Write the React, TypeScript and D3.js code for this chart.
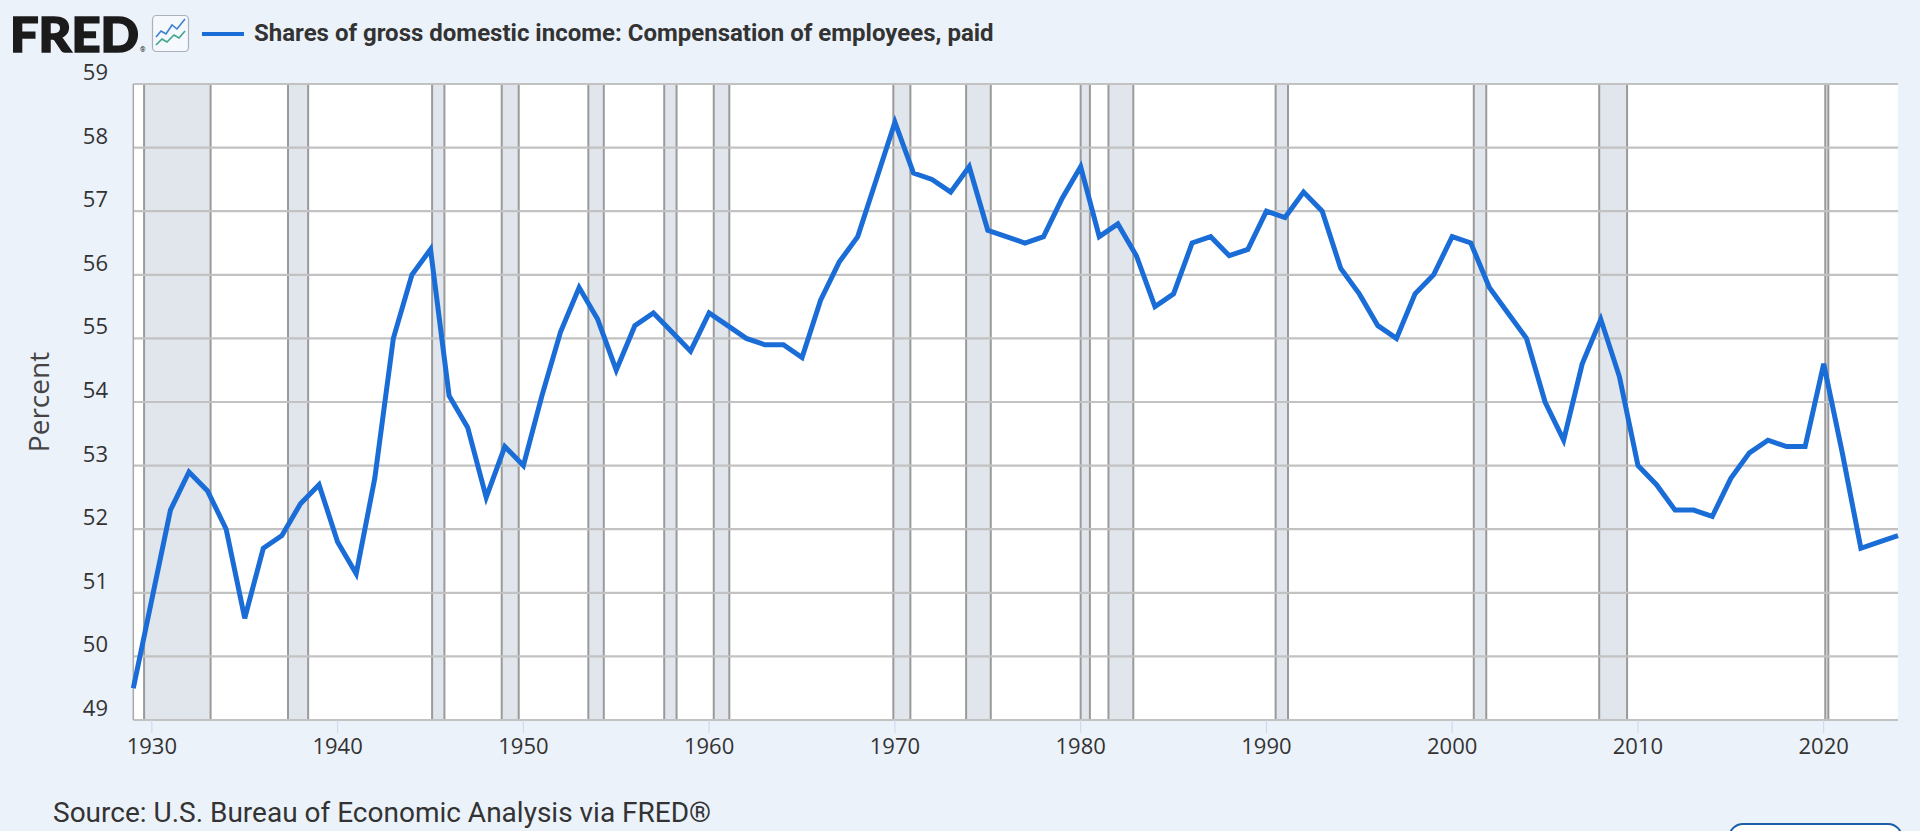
import React from "react";
import * as d3 from "d3";

const years: number[] = d3.range(1929, 2025);
const values: number[] = [
  49.5, 50.9, 52.3, 52.9, 52.6, 52.0, 50.6, 51.7, 51.9, 52.4,
  52.7, 51.8, 51.3, 52.8, 55.0, 56.0, 56.4, 54.1, 53.6, 52.5,
  53.3, 53.0, 54.1, 55.1, 55.8, 55.3, 54.5, 55.2, 55.4, 55.1,
  54.8, 55.4, 55.2, 55.0, 54.9, 54.9, 54.7, 55.6, 56.2, 56.6,
  57.5, 58.4, 57.6, 57.5, 57.3, 57.7, 56.7, 56.6, 56.5, 56.6,
  57.2, 57.7, 56.6, 56.8, 56.3, 55.5, 55.7, 56.5, 56.6, 56.3,
  56.4, 57.0, 56.9, 57.3, 57.0, 56.1, 55.7, 55.2, 55.0, 55.7,
  56.0, 56.6, 56.5, 55.8, 55.4, 55.0, 54.0, 53.4, 54.6, 55.3,
  54.4, 53.0, 52.7, 52.3, 52.3, 52.2, 52.8, 53.2, 53.4, 53.3,
  53.3, 54.6, 53.2, 51.7, 51.8, 51.9,
];

const recessionStarts: string[] = [
  "1929-08-01", "1937-05-01", "1945-02-01", "1948-11-01", "1953-07-01",
  "1957-08-01", "1960-04-01", "1969-12-01", "1973-11-01", "1980-01-01",
  "1981-07-01", "1990-07-01", "2001-03-01", "2007-12-01", "2020-02-01",
];
const recessionEnds: string[] = [
  "1933-03-01", "1938-06-01", "1945-10-01", "1949-10-01", "1954-05-01",
  "1958-04-01", "1961-02-01", "1970-11-01", "1975-03-01", "1980-07-01",
  "1982-11-01", "1991-03-01", "2001-11-01", "2009-06-01", "2020-04-01",
];

const yTicks: number[] = [49, 50, 51, 52, 53, 54, 55, 56, 57, 58, 59];
const xTickYears: number[] = [1930, 1940, 1950, 1960, 1970, 1980, 1990, 2000, 2010, 2020];

const title = "Shares of gross domestic income: Compensation of employees, paid";
const yAxisTitle = "Percent";
const sourceText = "Source: U.S. Bureau of Economic Analysis via FRED®";

const W = 1920;
const H = 831;
const plotL = 133.3;
const plotR = 1898;
const plotT = 84;
const plotB = 720;

const parse = (s: string) => new Date(s + "T00:00:00Z");
const yearDate = (y: number) => new Date(Date.UTC(y, 0, 1));

export default function App() {
  const x = d3
    .scaleUtc()
    .domain([yearDate(1929), yearDate(2024)])
    .range([plotL, plotR]);
  const y = d3.scaleLinear().domain([49, 59]).range([plotB, plotT]);

  const data = years.map((yr, i) => ({ d: yearDate(yr), v: values[i] }));
  const line = d3
    .line<{ d: Date; v: number }>()
    .x((p) => x(p.d))
    .y((p) => y(p.v));

  const lineColor = "#1a6dd6";
  const axisFont = "'Open Sans', 'Noto Sans', sans-serif";

  return (
    <div style={{ position: "absolute", left: 0, top: 0, width: W, height: H }}>
      <svg width={W} height={H} style={{ display: "block" }}>
        <rect x={0} y={0} width={W} height={H} fill="#ecf2fa" />

        {/* FRED logo */}
        <text
          x={10}
          y={52}
          fontFamily="'Lato', 'Roboto', 'Liberation Sans', sans-serif"
          fontWeight={900}
          fontSize={48}
          fill="#1b1b1b"
          stroke="#1b1b1b"
          strokeWidth={1.6}
          textLength={129}
          lengthAdjust="spacingAndGlyphs"
        >
          FRED
        </text>
        <text x={140} y={52} fontFamily="Roboto, sans-serif" fontSize={7} fill="#1b1b1b">
          ®
        </text>
        <rect x={152.5} y={15.5} width={36} height={36} rx={4} fill="#f5f8fc" stroke="#a9b1bd" strokeWidth={1.2} />
        <polyline
          points="156,37 161,31 166,34 172,25 177,29 185,19"
          fill="none"
          stroke="#3b7fd1"
          strokeWidth={1.6}
        />
        <polyline
          points="156,45 162,39 167,42 174,35 179,38 185,31"
          fill="none"
          stroke="#3ea58a"
          strokeWidth={1.6}
        />

        {/* legend */}
        <line x1={202} x2={244} y1={34} y2={34} stroke={lineColor} strokeWidth={4} />
        <text
          x={254}
          y={41}
          fontFamily="Roboto, sans-serif"
          fontWeight={700}
          fontSize={24}
          fill="#333"
        >
          {title}
        </text>

        {/* plot background */}
        <rect x={plotL} y={plotT} width={plotR - plotL} height={plotB - plotT} fill="#ffffff" />

        {/* recession bands */}
        {recessionStarts.map((s, i) => {
          const x0 = x(parse(s));
          const x1 = x(parse(recessionEnds[i]));
          return (
            <g key={s}>
              <rect x={x0} y={plotT} width={x1 - x0} height={plotB - plotT} fill="#e1e5ec" />
              <line x1={x0} x2={x0} y1={plotT} y2={plotB} stroke="#9a9a9a" strokeWidth={2} />
              <line x1={x1} x2={x1} y1={plotT} y2={plotB} stroke="#9a9a9a" strokeWidth={2} />
            </g>
          );
        })}

        {/* horizontal grid */}
        {yTicks.map((t) => (
          <line
            key={t}
            x1={plotL}
            x2={plotR}
            y1={y(t)}
            y2={y(t)}
            stroke="#c2c2c2"
            strokeWidth={2.2}
          />
        ))}
        {/* left border */}
        <line x1={plotL} x2={plotL} y1={plotT} y2={plotB} stroke="#a8a8a8" strokeWidth={1.5} />

        {/* y labels */}
        {yTicks.map((t) => (
          <text
            key={t}
            x={108}
            y={y(t) - 4}
            textAnchor="end"
            fontFamily={axisFont}
            fontSize={22}
            fill="#333"
          >
            {t}
          </text>
        ))}
        <text
          transform={`translate(38,${(plotT + plotB) / 2}) rotate(-90)`}
          textAnchor="middle"
          dominantBaseline="central"
          fontFamily={axisFont}
          fontSize={28}
          fill="#444"
        >
          {yAxisTitle}
        </text>

        {/* x ticks */}
        {xTickYears.map((yr) => {
          const xx = x(yearDate(yr));
          return (
            <g key={yr}>
              <line x1={xx} x2={xx} y1={plotB} y2={plotB + 13} stroke="#ccd6eb" strokeWidth={1} />
              <text
                x={xx}
                y={754}
                textAnchor="middle"
                fontFamily={axisFont}
                fontSize={22}
                fill="#333"
              >
                {yr}
              </text>
            </g>
          );
        })}

        {/* series */}
        <path d={line(data) ?? ""} fill="none" stroke={lineColor} strokeWidth={5} strokeLinejoin="miter" />

        {/* source */}
        <text x={53} y={822} fontFamily="Roboto, sans-serif" fontSize={28} fill="#333">
          {sourceText}
        </text>

        {/* partial button */}
        <rect x={1729} y={824} width={173} height={40} rx={14} fill="#ffffff" stroke="#1a5fa8" strokeWidth={2} />
      </svg>
    </div>
  );
}
